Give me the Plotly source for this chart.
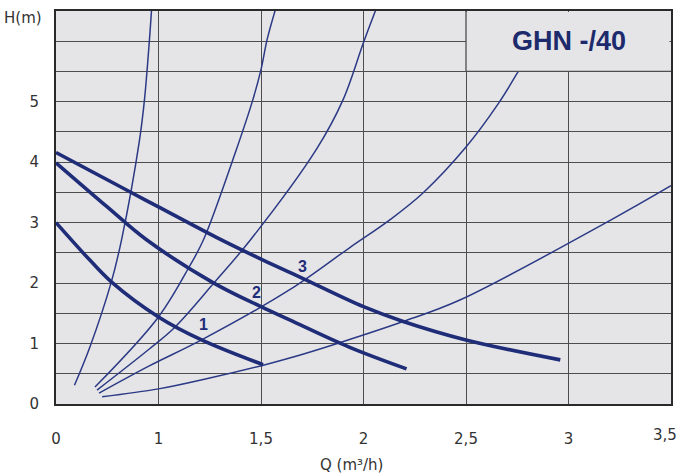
import plotly.graph_objects as go

# ---------------- data (Q in m3/h, H in m) ----------------
pump1_q = [0, 0.33, 0.54, 1.0, 1.21, 1.51]
pump1_h = [3.0, 2.38, 2.02, 1.44, 1.06, 0.65]

pump2_q = [0, 0.5, 0.88, 1.27, 1.5, 1.64, 1.93, 2.21]
pump2_h = [3.99, 3.26, 2.72, 2.0, 1.61, 1.39, 0.94, 0.58]

pump3_q = [0, 0.72, 1.0, 1.28, 1.51, 1.69, 2.0, 2.19, 2.5, 2.96]
pump3_h = [4.16, 3.51, 3.26, 2.76, 2.38, 2.10, 1.61, 1.37, 1.06, 0.73]

sys_a_q = [0.18, 0.33, 0.54, 0.64, 0.815, 0.863, 0.912, 0.932]
sys_a_h = [0.31, 0.94, 2.02, 2.72, 4.37, 5.03, 6.03, 6.52]

sys_b_q = [0.38, 1.0, 1.15, 1.22, 1.38, 1.46, 1.50, 1.53, 1.57]
sys_b_h = [0.28, 1.44, 2.27, 2.72, 4.21, 5.03, 5.53, 6.03, 6.52]

sys_c_q = [0.40, 0.91, 1.08, 1.27, 1.45, 1.77, 1.90, 2.0, 2.06]
sys_c_h = [0.23, 0.91, 1.27, 2.0, 2.72, 4.21, 5.03, 5.98, 6.52]

sys_d_q = [0.42, 0.91, 1.21, 1.64, 1.93, 2.13, 2.29, 2.5, 2.66, 2.76, 2.83]
sys_d_h = [0.18, 0.63, 1.06, 1.89, 2.58, 3.05, 3.49, 4.25, 4.98, 5.53, 5.94]

sys_e_q = [0.45, 1.0, 1.25, 1.52, 1.64, 1.88, 2.19, 2.47, 3.21, 3.5]
sys_e_h = [0.12, 0.25, 0.43, 0.65, 0.76, 1.01, 1.36, 1.72, 3.05, 3.61]

x_tick_q = [0, 1, 1.5, 2, 2.5, 3, 3.5]
x_tick_labels = ["0", "1", "1,5", "2", "2,5", "3", "3,5"]
y_tick_vals = [0, 1, 2, 3, 4, 5]
curve_labels = ["1", "2", "3"]
title_text = "GHN -/40"


# The chart's Q axis is compressed between 0 and 1 (0..1 takes one grid step,
# every further 0.5 takes one step).  Map Q onto that axis.
def to_axis(q):
    return q if q <= 1 else 1 + (q - 1) * 2


def tx(qs):
    return [to_axis(q) for q in qs]


NAVY = "#1f2c78"
THIN = "#2c3a85"
GRID = "#4d4d4d"
BG = "#e5e5e8"
TXT = "#333333"

fig = go.Figure()

for q, h in [(sys_a_q, sys_a_h), (sys_b_q, sys_b_h), (sys_c_q, sys_c_h),
             (sys_d_q, sys_d_h), (sys_e_q, sys_e_h)]:
    fig.add_trace(go.Scatter(x=tx(q), y=h, mode="lines",
                             line=dict(color=THIN, width=1.5, shape="spline", smoothing=1.0),
                             hoverinfo="skip", showlegend=False))

for q, h in [(pump1_q, pump1_h), (pump2_q, pump2_h), (pump3_q, pump3_h)]:
    fig.add_trace(go.Scatter(x=tx(q), y=h, mode="lines",
                             line=dict(color=NAVY, width=3.6, shape="spline", smoothing=1.0),
                             hoverinfo="skip", showlegend=False))

# curve number labels
label_pos = [(1.22, 1.31), (1.48, 1.85), (1.70, 2.28)]
for txt, (q, h) in zip(curve_labels, label_pos):
    fig.add_annotation(x=to_axis(q), y=h, text="<b>%s</b>" % txt, showarrow=False,
                       font=dict(family="Liberation Sans, Arial", size=16, color=NAVY))

# title box in the upper right
fig.add_shape(type="rect", xref="x", yref="y", x0=to_axis(2.5), x1=5.985,
              y0=5.5, y1=6.485, fillcolor=BG, line=dict(width=0), layer="above")
fig.add_shape(type="line", xref="x", yref="y", x0=to_axis(2.5), x1=to_axis(2.5),
              y0=5.5, y1=6.5, line=dict(color=GRID, width=1.3), layer="above")
fig.add_shape(type="line", xref="x", yref="y", x0=to_axis(2.5), x1=6,
              y0=5.5, y1=5.5, line=dict(color=GRID, width=1.3), layer="above")
fig.add_annotation(x=to_axis(3.0), y=6.0, xref="x", yref="y", text="<b>%s</b>" % title_text,
                   showarrow=False,
                   font=dict(family="Liberation Sans, Arial", size=27, color="#1d2a6c"))

# axis titles
fig.add_annotation(xref="paper", yref="paper", x=-0.088, y=0.982, xanchor="left",
                   yanchor="middle", text="H(m)", showarrow=False,
                   font=dict(family="DejaVu Sans", size=15, color=TXT))
fig.add_annotation(xref="paper", yref="paper", x=0.481, y=-0.155, xanchor="center",
                   yanchor="middle", text="Q (m³/h)", showarrow=False,
                   font=dict(family="DejaVu Sans", size=15, color=TXT))

# last x tick label sits just inside the right edge in the reference
x_tick_text = list(x_tick_labels)
last_label = x_tick_text[-1]
x_tick_text[-1] = ""
fig.add_annotation(xref="x", yref="paper", x=to_axis(x_tick_q[-1]), y=-0.078,
                   xanchor="right", yanchor="middle", xshift=8, text=last_label,
                   showarrow=False, font=dict(family="DejaVu Sans", size=15, color=TXT))

y_grid = [i * 0.5 for i in range(14)]
fig.update_layout(
    width=679, height=474,
    margin=dict(l=56, r=8, t=11, b=70, autoexpand=False),
    paper_bgcolor="white", plot_bgcolor=BG,
    showlegend=False,
    xaxis=dict(range=[0, 6], tickvals=tx(x_tick_q), ticktext=x_tick_text,
               showgrid=True, gridcolor=GRID, gridwidth=1.3, zeroline=False,
               showline=True, linecolor="#2a2a2a", linewidth=2, mirror=True,
               ticks="", ticklabelstandoff=20, automargin=False,
               tickfont=dict(family="DejaVu Sans", size=15, color=TXT)),
    yaxis=dict(range=[0, 6.5], tickvals=y_grid,
               ticktext=[str(int(v)) if (v in y_tick_vals) else "" for v in y_grid],
               showgrid=True, gridcolor=GRID, gridwidth=1.3, zeroline=False,
               showline=True, linecolor="#2a2a2a", linewidth=2, mirror=True,
               ticks="", ticklabelstandoff=12, automargin=False,
               tickfont=dict(family="DejaVu Sans", size=15, color=TXT)),
)

fig.write_html(
    "out.html",
    config={"displayModeBar": False},
    post_script="document.body.style.margin='0px';document.body.style.overflow='hidden';",
)
